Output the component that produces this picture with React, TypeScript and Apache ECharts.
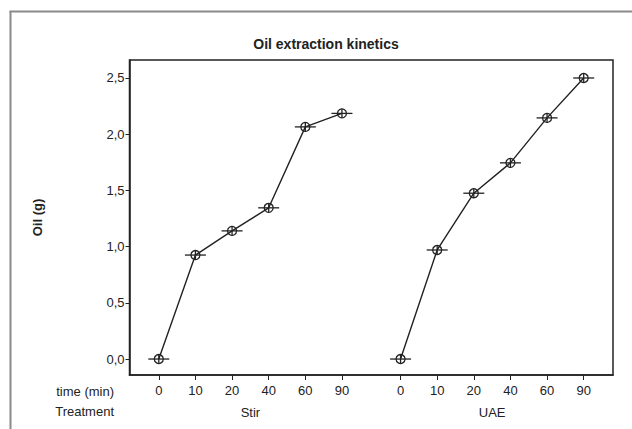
import React, { useEffect, useRef } from "react";
import * as echarts from "echarts";

const timeLabels = ["0", "10", "20", "40", "60", "90"];
const treatments = ["Stir", "UAE"];
const stirOil = [0, 0.925, 1.14, 1.345, 2.065, 2.185];
const uaeOil = [0, 0.97, 1.475, 1.745, 2.145, 2.5];
const yTicks = [0, 0.5, 1.0, 1.5, 2.0, 2.5];

const GROUP_STRIDE = 6.6;
const seriesValues = [stirOil, uaeOil];

const FONT = "'Liberation Sans', Arial, sans-serif";
const FS = 13;

export default function App() {
  const ref = useRef<HTMLDivElement>(null);
  useEffect(() => {
    if (!ref.current) return;
    const chart = echarts.init(ref.current, null, { renderer: "svg" });
    const positions: number[] = [];
    const posLabel: Record<string, string> = {};
    treatments.forEach((_, g) => {
      timeLabels.forEach((t, i) => {
        const p = +(i + g * GROUP_STRIDE).toFixed(2);
        positions.push(p);
        posLabel[p.toFixed(2)] = t;
      });
    });
    const groupCenters = treatments.map((_, g) => +(2.5 + g * GROUP_STRIDE).toFixed(2));
    const groupLabel: Record<string, string> = {};
    groupCenters.forEach((c, g) => (groupLabel[c.toFixed(2)] = treatments[g]));

    const lineData = seriesValues.map((vals, g) =>
      vals.map((v, i) => [i + g * GROUP_STRIDE, v])
    );
    const markerData = lineData.flat();

    const ink = "#222";
    chart.setOption({
      animation: false,
      textStyle: { fontFamily: FONT },
      title: {
        text: "Oil extraction kinetics",
        left: 321,
        textAlign: "center",
        top: 32,
        textStyle: { fontFamily: FONT, fontSize: 14, fontWeight: "bold", color: "#222" },
      },
      graphic: [
        { type: "line", shape: { x1: 9.5, y1: 11.5, x2: 632, y2: 11.5 }, style: { stroke: "#8a8a8a", lineWidth: 2 } },
        { type: "line", shape: { x1: 10.5, y1: 11, x2: 10.5, y2: 429 }, style: { stroke: "#8a8a8a", lineWidth: 2 } },
        { type: "text", right: 632 - 114, top: 385, style: { text: "time (min)", font: `${FS}px ${FONT}`, fill: ink, textAlign: "right" } },
        { type: "text", right: 632 - 114, top: 405, style: { text: "Treatment", font: `${FS}px ${FONT}`, fill: ink, textAlign: "right" } },
      ],
      grid: {
        left: 129.5,
        top: 60,
        right: 19,
        bottom: 54,
        show: true,
        borderColor: ink,
        borderWidth: 1.5,
      },
      xAxis: [
        {
          type: "value",
          min: -0.8,
          max: 12.4,
          axisLine: { show: true, onZero: false, lineStyle: { color: ink, width: 1.5 } },
          axisTick: { show: true, length: 5, customValues: positions, lineStyle: { color: ink } },
          axisLabel: {
            customValues: positions,
            formatter: (v: number) => posLabel[v.toFixed(2)] ?? "",
            color: ink,
            fontSize: FS,
            margin: 9,
          },
          splitLine: { show: false },
        },
        {
          type: "value",
          min: -0.8,
          max: 12.4,
          position: "bottom",
          offset: 22,
          axisLine: { show: false, onZero: false },
          axisTick: { show: false },
          axisLabel: {
            customValues: groupCenters,
            formatter: (v: number) => groupLabel[v.toFixed(2)] ?? "",
            color: ink,
            fontSize: FS,
            margin: 9,
          },
          splitLine: { show: false },
        },
      ],
      yAxis: {
        type: "value",
        min: -0.142,
        max: 2.66,
        name: "Oil (g)",
        nameLocation: "middle",
        nameGap: 86,
        nameRotate: 90,
        nameTextStyle: { fontFamily: FONT, fontSize: FS, fontWeight: "bold", color: ink },
        axisLine: { show: true, onZero: false, lineStyle: { color: ink, width: 1.5 } },
        axisTick: { show: true, length: 4, customValues: yTicks, lineStyle: { color: ink } },
        axisLabel: {
          customValues: yTicks,
          formatter: (v: number) => v.toFixed(1).replace(".", ","),
          color: ink,
          fontSize: FS,
          margin: 5,
        },
        splitLine: { show: false },
      },
      series: [
        ...lineData.map((d, g) => ({
          type: "line",
          name: treatments[g],
          data: d,
          symbol: "none",
          lineStyle: { color: ink, width: 1.4 },
          z: 2,
        })),
        {
          type: "custom",
          data: markerData,
          z: 3,
          renderItem: (_params: any, api: any) => {
            const c = api.coord([api.value(0), api.value(1)]);
            const r = 4.5;
            const stroke = { stroke: ink, lineWidth: 1.3, fill: "none" };
            return {
              type: "group",
              children: [
                { type: "line", shape: { x1: c[0] - 10.5, y1: c[1], x2: c[0] + 10.5, y2: c[1] }, style: stroke },
                { type: "circle", shape: { cx: c[0], cy: c[1], r }, style: stroke },
                { type: "line", shape: { x1: c[0], y1: c[1] - r, x2: c[0], y2: c[1] + r }, style: stroke },
              ],
            };
          },
        },
      ],
    });
    return () => chart.dispose();
  }, []);
  return (
    <div
      ref={ref}
      style={{ position: "fixed", left: 0, top: 0, width: 632, height: 429, background: "#fff" }}
    />
  );
}
